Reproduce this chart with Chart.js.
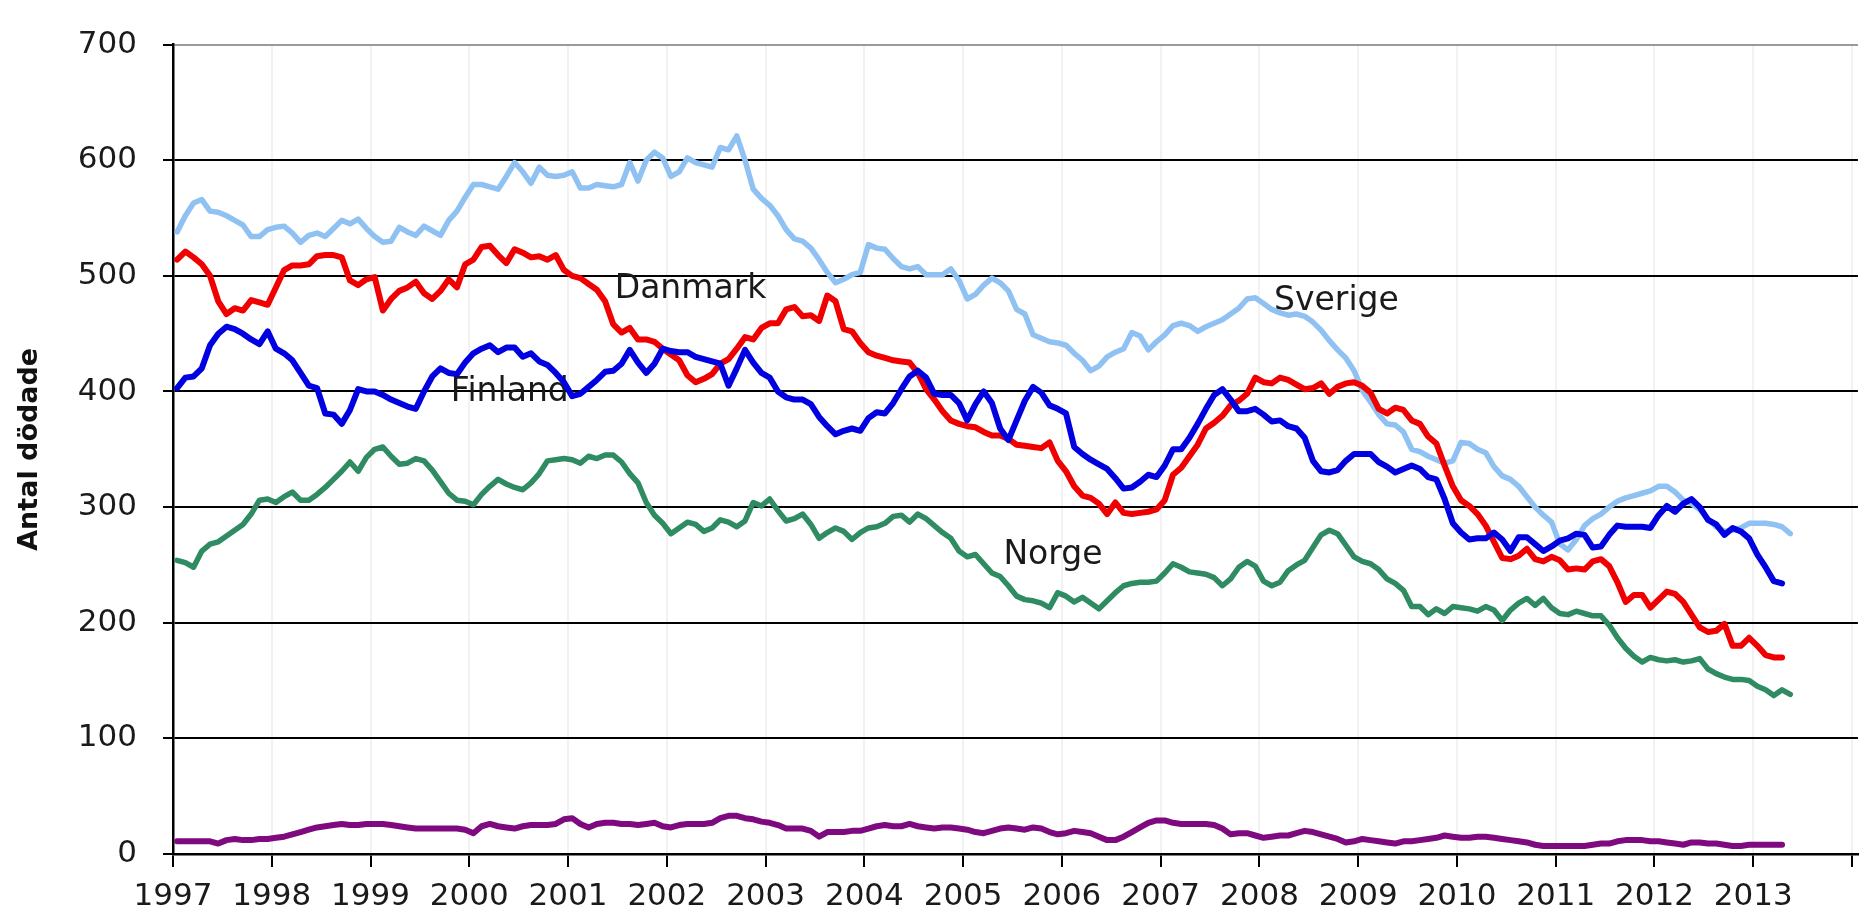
<!DOCTYPE html>
<html>
<head>
<meta charset="utf-8">
<script src="https://cdn.jsdelivr.net/npm/chart.js@4/dist/chart.umd.min.js"></script>
<style>
  body { margin: 0; background: #fff; }
  canvas { display: block; }
</style>
</head>
<body>
<canvas id="chart" width="1863" height="911"></canvas>
<script>
// monthly values, Jan 1997 onwards (one row per year)
var sverige = [
  538, 552, 563, 566, 556, 555, 552, 548, 544, 534, 534, 540,
  542, 543, 537, 529, 535, 537, 534, 541, 548, 545, 549, 541,
  534, 529, 530, 542, 538, 535, 543, 539, 535, 548, 556, 568,
  579, 579, 577, 575, 586, 598, 590, 580, 594, 587, 586, 587,
  590, 576, 576, 579, 578, 577, 579, 598, 582, 600, 607, 602,
  586, 590, 602, 598, 596, 594, 611, 609, 621, 600, 575, 567,
  561, 552, 540, 532, 530, 524, 514, 503, 494, 497, 501, 503,
  527, 524, 523, 515, 508, 506, 508, 501, 501, 501, 506, 496,
  480, 484, 492, 498, 494, 487, 471, 467, 449, 446, 443, 442,
  440, 433, 427, 418, 422, 430, 434, 437, 451, 448, 436, 443,
  449, 457, 459, 457, 452, 456, 459, 462, 467, 472, 480, 481,
  476, 471, 468, 466, 467, 465, 460, 453, 444, 436, 429, 418,
  401, 391, 380, 372, 371, 365, 350, 348, 344, 341, 338, 340,
  356, 355, 350, 347, 335, 327, 324, 318, 309, 300, 293, 287,
  268, 263, 272, 284, 290, 294, 300, 305, 308, 310, 312, 314,
  318, 318, 313, 306, 303, 298, 290, 283, 279, 280, 282, 286,
  286, 286, 285, 283, 277
];
var danmark = [
  514, 521, 516, 510, 500, 478, 467, 472, 470, 479, 477, 475,
  490, 505, 509, 509, 510, 517, 518, 518, 516, 496, 492, 497,
  499, 470, 480, 487, 490, 495, 485, 480, 487, 497, 490, 510,
  514, 525, 526, 518, 511, 523, 520, 516, 517, 514, 518, 505,
  500, 498, 493, 488, 478, 458, 451, 455, 445, 445, 443, 437,
  432, 427, 414, 408, 411, 415, 424, 428, 437, 447, 445, 455,
  459, 459, 471, 473, 465, 466, 461, 483, 478, 454, 452, 442,
  434, 431, 429, 427, 426, 425, 416, 402, 393, 383, 375, 372,
  370, 369, 365, 362, 362, 359, 354, 353, 352, 351, 356, 340,
  331, 318, 310, 308, 303, 294, 304, 295, 294, 295, 296, 298,
  306, 328, 334, 344, 354, 368, 373, 379, 388, 392, 398, 412,
  408, 407, 412, 410, 406, 402, 403, 407, 398, 404, 407, 408,
  405, 399, 385, 381, 386, 384, 375, 372, 361, 355, 336, 318,
  306, 301, 294, 284, 270, 256, 255, 258, 264, 255, 253, 257,
  254, 246, 247, 246, 253, 255, 249, 235, 218, 224, 224, 213,
  220, 227, 225, 218, 207, 196, 192, 193, 199, 180, 180, 187,
  180, 172, 170, 170
];
var finland = [
  403, 412, 413, 420, 440, 450, 456, 454, 450, 445, 441, 452,
  437, 433, 427, 416, 405, 403, 381, 380, 372, 384, 402, 400,
  400, 397, 393, 390, 387, 385, 400, 413, 420, 416, 415, 425,
  433, 437, 440, 434, 438, 438, 430, 433, 426, 423, 416, 408,
  396, 398, 404, 410, 417, 418, 424, 436, 425, 416, 424, 437,
  435, 434, 434, 430, 428, 426, 424, 405, 420, 436, 425, 416,
  412, 400, 395, 393, 393, 389, 378, 370, 363, 366, 368, 366,
  377, 382, 381, 390, 402, 413, 418, 412, 398, 397, 397, 390,
  375, 389, 400, 390, 368, 358, 375, 392, 404, 399, 388, 385,
  381, 352, 346, 341, 337, 333, 325, 316, 317, 322, 328, 326,
  336, 350, 350, 360, 372, 385, 397, 402, 393, 383, 383, 385,
  380, 374, 375, 370, 368, 360, 340, 331, 330, 332, 340, 346,
  346, 346, 339, 335, 330, 333, 336, 333, 326, 324, 307, 286,
  278, 272, 273, 273, 278, 272, 262, 274, 274, 268, 262, 266,
  271, 273, 277, 276, 265, 266, 276, 284, 283, 283, 283, 282,
  293, 301, 296, 303, 307, 300, 289, 285, 276, 282, 279, 273,
  259, 248, 236, 234
];
var norge = [
  254, 252, 248, 262, 268, 270, 275, 280, 285, 294, 306, 307,
  304, 309, 313, 306, 306, 311, 317, 324, 331, 339, 331, 343,
  350, 352, 344, 337, 338, 342, 340, 332, 322, 312, 306, 305,
  302, 311, 318, 324, 320, 317, 315, 321, 329, 340, 341, 342,
  341, 338, 344, 342, 345, 345, 339, 329, 321, 304, 293, 286,
  277, 282, 287, 285, 279, 282, 289, 287, 283, 288, 304, 301,
  307, 297, 288, 290, 294, 285, 273, 278, 282, 279, 272, 278,
  282, 283, 286, 292, 293, 287, 294, 290, 284, 278, 273, 262,
  257, 259, 251, 243, 240, 232, 223, 220, 219, 217, 213, 226,
  223, 218, 222, 217, 212, 219, 226, 232, 234, 235, 235, 236,
  243, 251, 248, 244, 243, 242, 239, 232, 238, 248, 253, 249,
  236, 232, 235, 245, 250, 254, 265, 276, 280, 277, 267, 257,
  253, 251, 246, 238, 234, 228, 214, 214, 207, 212, 208, 214,
  213, 212, 210, 214, 211, 202, 211, 217, 221, 215, 221, 213,
  208, 207, 210, 208, 206, 206, 198, 187, 178, 171, 166, 170,
  168, 167, 168, 166, 167, 169, 160, 156, 153, 151, 151, 150,
  145, 142, 137, 142, 138
];
var island = [
  11, 11, 11, 11, 11, 9, 12, 13, 12, 12, 13, 13,
  14, 15, 17, 19, 21, 23, 24, 25, 26, 25, 25, 26,
  26, 26, 25, 24, 23, 22, 22, 22, 22, 22, 22, 21,
  18, 24, 26, 24, 23, 22, 24, 25, 25, 25, 26, 30,
  31, 26, 23, 26, 27, 27, 26, 26, 25, 26, 27, 24,
  23, 25, 26, 26, 26, 27, 31, 33, 33, 31, 30, 28,
  27, 25, 22, 22, 22, 20, 15, 19, 19, 19, 20, 20,
  22, 24, 25, 24, 24, 26, 24, 23, 22, 23, 23, 22,
  21, 19, 18, 20, 22, 23, 22, 21, 23, 22, 19, 17,
  18, 20, 19, 18, 15, 12, 12, 15, 19, 23, 27, 29,
  29, 27, 26, 26, 26, 26, 25, 22, 17, 18, 18, 16,
  14, 15, 16, 16, 18, 20, 19, 17, 15, 13, 10, 11,
  13, 12, 11, 10, 9, 11, 11, 12, 13, 14, 16, 15,
  14, 14, 15, 15, 14, 13, 12, 11, 10, 8, 7, 7,
  7, 7, 7, 7, 8, 9, 9, 11, 12, 12, 12, 11,
  11, 10, 9, 8, 10, 10, 9, 9, 8, 7, 7, 8,
  8, 8, 8, 8
];
var years = [1997, 1998, 1999, 2000, 2001, 2002, 2003, 2004, 2005, 2006, 2007, 2008, 2009, 2010, 2011, 2012, 2013, 2014];
var yearLabels = ['1997', '1998', '1999', '2000', '2001', '2002', '2003', '2004', '2005', '2006', '2007', '2008', '2009', '2010', '2011', '2012', '2013'];

// names written next to the lines (year, value where the text sits)
var seriesLabels = [
  { text: 'Danmark', year: 2002.24, value: 488 },
  { text: 'Finland', year: 2000.41, value: 399 },
  { text: 'Sverige', year: 2008.78, value: 478 },
  { text: 'Norge', year: 2005.91, value: 258 }
];

// middle of each month as decimal year
var months = [];
for (var i = 0; i < 197; i++) months.push(1997 + (i + 0.5) / 12);

function points(values) {
  return values.map(function (v, i) { return { x: months[i], y: v }; });
}

var labelPlugin = {
  id: 'seriesLabels',
  beforeDatasetsDraw: function (chart) {
    var ctx = chart.ctx, x = chart.scales.x, y = chart.scales.y;
    ctx.save();
    ctx.font = '33px "DejaVu Sans"';
    ctx.fillStyle = '#1a1a1a';
    ctx.textAlign = 'center';
    ctx.textBaseline = 'middle';
    seriesLabels.forEach(function (l) {
      ctx.fillText(l.text, x.getPixelForValue(l.year), y.getPixelForValue(l.value));
    });
    ctx.restore();
  }
};

var tickFont = { family: 'DejaVu Sans', size: 31 };

new Chart(document.getElementById('chart'), {
  type: 'line',
  data: {
    datasets: [
      { label: 'Finland', data: points(finland), borderColor: '#0000e0', borderWidth: 6 },
      { label: 'Danmark', data: points(danmark), borderColor: '#f00000', borderWidth: 6 },
      { label: 'Sverige', data: points(sverige), borderColor: '#8fc2f2', borderWidth: 5.5 },
      { label: 'Norge', data: points(norge), borderColor: '#2e8b62', borderWidth: 5.5 },
      { label: 'Island', data: points(island), borderColor: '#7f0a7f', borderWidth: 6 }
    ]
  },
  options: {
    responsive: false,
    animation: false,
    layout: { padding: { left: 0, top: 24, right: 0, bottom: 0 } },
    elements: {
      point: { radius: 0 },
      line: { tension: 0, borderJoinStyle: 'round', borderCapStyle: 'round', fill: false }
    },
    plugins: { legend: { display: false }, tooltip: { enabled: false } },
    scales: {
      x: {
        type: 'linear',
        min: 1997,
        max: 2014.06,
        afterBuildTicks: function (scale) {
          scale.ticks = years.map(function (v) { return { value: v }; });
        },
        afterFit: function (scale) { scale.height = 57; },
        ticks: {
          autoSkip: false,
          maxRotation: 0,
          padding: 11,
          color: '#1a1a1a',
          font: tickFont,
          callback: function (v) {
            var s = String(v);
            return yearLabels.indexOf(s) >= 0 ? s : '';
          }
        },
        grid: { color: 'rgba(0,0,0,0.05)', lineWidth: 2, tickColor: '#000', tickLength: 13, tickWidth: 2 },
        border: { color: '#000', width: 2.5 }
      },
      y: {
        min: 0,
        max: 700,
        afterFit: function (scale) { scale.width = 173; },
        ticks: { stepSize: 100, padding: 26, color: '#1a1a1a', font: tickFont },
        grid: {
          color: function (c) { return c.tick && c.tick.value === 700 ? '#9a9a9a' : '#000'; },
          lineWidth: 2,
          tickColor: '#000',
          tickLength: 10,
          tickWidth: 2
        },
        border: { color: '#000', width: 2.5 },
        title: {
          display: true,
          text: 'Antal dödade',
          color: '#111',
          padding: { top: 14, bottom: 0 },
          font: { family: 'DejaVu Sans', size: 27, weight: 'bold' }
        }
      }
    }
  },
  plugins: [labelPlugin]
});
</script>
</body>
</html>
